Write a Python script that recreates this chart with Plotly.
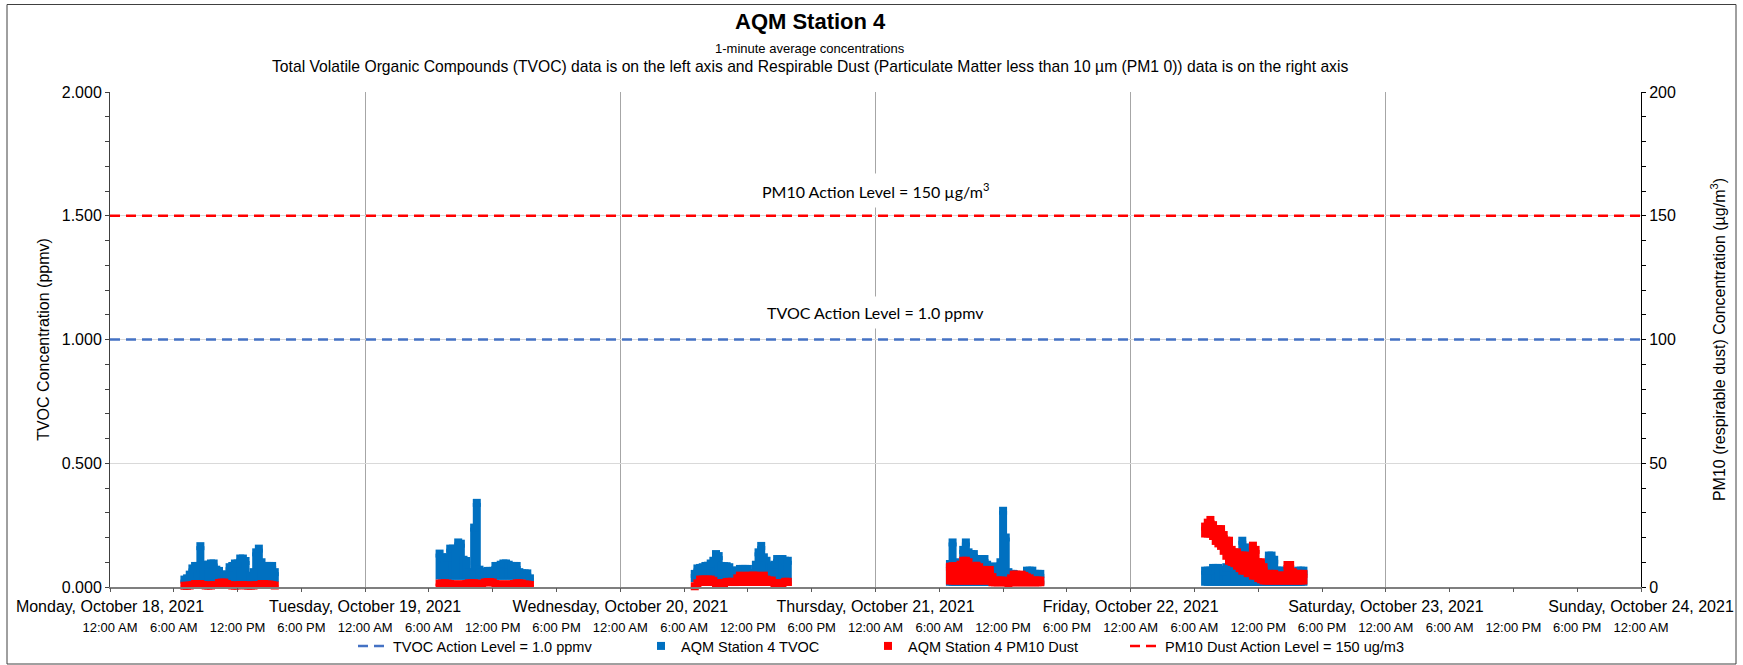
import numpy as np
import pandas as pd
import plotly.graph_objects as go

# ------------------------------------------------------------------ data
day_dates = ["2021-10-18", "2021-10-19", "2021-10-20", "2021-10-21", "2021-10-22"]
day_start_time = "07:00"
day_end_times = ["15:30", "15:30", "15:45", "15:30", "16:15"]

# TVOC (ppmv) upper / lower envelope of the 1-minute values, 15-minute steps
mon_tvoc_hi = [0.030, 0.035, 0.050, 0.075, 0.085, 0.085, 0.165, 0.090, 0.085, 0.090, 0.095, 0.095,
               0.070, 0.065, 0.050, 0.050, 0.050, 0.080, 0.085, 0.095, 0.095, 0.115, 0.115, 0.105,
               0.045, 0.045, 0.060, 0.140, 0.155, 0.100, 0.085, 0.085, 0.085, 0.085, 0.060]
mon_tvoc_lo = [0.020, 0.020, 0.020, 0.020, 0.020, 0.020, 0.020, 0.020, 0.020, 0.020, 0.020, 0.020,
               0.020, 0.020, 0.020, 0.020, 0.020, 0.020, 0.020, 0.020, 0.020, 0.020, 0.020, 0.020,
               0.020, 0.020, 0.020, 0.020, 0.020, 0.020, 0.020, 0.020, 0.020, 0.020, 0.020]
tue_tvoc_hi = [0.135, 0.120, 0.100, 0.120, 0.155, 0.155, 0.150, 0.180, 0.175, 0.110, 0.105, 0.060,
               0.050, 0.240, 0.340, 0.070, 0.060, 0.060, 0.065, 0.065, 0.065, 0.085, 0.085, 0.090,
               0.095, 0.095, 0.090, 0.085, 0.085, 0.085, 0.060, 0.055, 0.055, 0.055, 0.035]
tue_tvoc_lo = [0.030, 0.030, 0.030, 0.030, 0.030, 0.030, 0.030, 0.030, 0.030, 0.030, 0.030, 0.030,
               0.030, 0.030, 0.030, 0.030, 0.030, 0.030, 0.030, 0.030, 0.030, 0.030, 0.030, 0.030,
               0.030, 0.030, 0.030, 0.030, 0.030, 0.030, 0.030, 0.030, 0.030, 0.030, 0.030]
wed_tvoc_hi = [0.053, 0.075, 0.077, 0.080, 0.085, 0.086, 0.095, 0.106, 0.133, 0.125, 0.085, 0.084,
               0.084, 0.080, 0.066, 0.066, 0.066, 0.073, 0.073, 0.073, 0.073, 0.050, 0.040, 0.090,
               0.140, 0.166, 0.120, 0.106, 0.084, 0.084, 0.090, 0.113, 0.113, 0.113, 0.106, 0.106]
wed_tvoc_lo = [0.020, 0.020, 0.020, 0.020, 0.020, 0.020, 0.020, 0.020, 0.020, 0.020, 0.020, 0.020,
               0.020, 0.020, 0.020, 0.020, 0.020, 0.020, 0.020, 0.020, 0.020, 0.020, 0.020, 0.020,
               0.020, 0.020, 0.020, 0.020, 0.020, 0.020, 0.020, 0.020, 0.020, 0.020, 0.020, 0.020]
thu_tvoc_hi = [0.093, 0.180, 0.100, 0.066, 0.066, 0.150, 0.180, 0.140, 0.133, 0.133, 0.113, 0.113,
               0.113, 0.113, 0.090, 0.082, 0.082, 0.082, 0.082, 0.100, 0.308, 0.200, 0.060, 0.053,
               0.053, 0.046, 0.046, 0.046, 0.046, 0.066, 0.066, 0.066, 0.053, 0.053, 0.053]
thu_tvoc_lo = [0.005, 0.005, 0.005, 0.005, 0.005, 0.005, 0.005, 0.005, 0.005, 0.005, 0.005, 0.005,
               0.005, 0.005, 0.005, 0.005, 0.005, 0.005, 0.005, 0.005, 0.005, 0.005, 0.005, 0.005,
               0.005, 0.005, 0.005, 0.005, 0.005, 0.005, 0.005, 0.005, 0.005, 0.005, 0.005]
fri_tvoc_hi = [0.066, 0.066, 0.066, 0.077, 0.077, 0.077, 0.070, 0.061, 0.080, 0.093, 0.093, 0.080,
               0.066, 0.100, 0.187, 0.160, 0.127, 0.127, 0.060, 0.040, 0.034, 0.034, 0.050, 0.093,
               0.127, 0.127, 0.110, 0.066, 0.066, 0.066, 0.050, 0.034, 0.034, 0.034, 0.040, 0.066,
               0.066, 0.066]
fri_tvoc_lo = [0.005, 0.005, 0.005, 0.005, 0.005, 0.005, 0.005, 0.005, 0.005, 0.005, 0.005, 0.005,
               0.005, 0.005, 0.005, 0.005, 0.005, 0.005, 0.005, 0.005, 0.005, 0.005, 0.005, 0.005,
               0.005, 0.005, 0.005, 0.005, 0.005, 0.005, 0.005, 0.005, 0.005, 0.005, 0.005, 0.005,
               0.005, 0.005]

# PM10 dust (ug/m3) upper / lower envelope, 15-minute steps
mon_pm10_hi = [0.5, 0.5, 0.6, 0.8, 1.2, 1.2, 1.2, 0.8, 0.6, 0.6, 0.6, 0.8, 0.8, 1.6, 1.8, 1.8, 1.2, 0.8,
               0.6, 0.6, 0.6, 0.8, 0.8, 0.6, 0.6, 0.6, 0.6, 0.8, 0.8, 1.2, 1.2, 1.0, 1.0, 0.8, 0.6]
mon_pm10_lo = [0.3, 0.3, 0.3, 0.3, 0.3, 0.3, 0.3, 0.3, 0.3, 0.3, 0.3, 0.3, 0.3, 0.3, 0.3, 0.3, 0.3, 0.3,
               0.3, 0.3, 0.3, 0.3, 0.3, 0.3, 0.3, 0.3, 0.3, 0.3, 0.3, 0.3, 0.3, 0.3, 0.3, 0.3, 0.3]
tue_pm10_hi = [1.4, 1.4, 1.5, 1.4, 1.2, 1.0, 1.0, 1.0, 1.0, 1.0, 1.2, 1.5, 1.5, 1.5, 1.4, 1.0, 1.2, 1.8,
               2.0, 2.0, 1.8, 1.2, 1.0, 1.0, 1.0, 1.0, 1.0, 1.0, 1.2, 1.5, 1.5, 1.4, 1.0, 1.0, 0.8]
tue_pm10_lo = [0.4, 0.4, 0.4, 0.4, 0.4, 0.4, 0.4, 0.4, 0.4, 0.4, 0.4, 0.4, 0.4, 0.4, 0.4, 0.4, 0.4, 0.4,
               0.4, 0.4, 0.4, 0.4, 0.4, 0.4, 0.4, 0.4, 0.4, 0.4, 0.4, 0.4, 0.4, 0.4, 0.4, 0.4, 0.4]
wed_pm10_hi = [0.3, 1.5, 3.0, 3.0, 3.0, 3.0, 3.0, 2.5, 1.5, 1.5, 1.5, 1.5, 2.0, 2.1, 2.1, 2.0, 3.5, 4.6,
               4.3, 4.0, 4.6, 3.5, 4.6, 4.6, 4.2, 4.0, 4.6, 3.0, 2.6, 2.6, 1.5, 1.5, 1.5, 1.5, 2.1, 2.1]
wed_pm10_lo = [0.4, 0.4, 0.4, 0.4, 0.4, 0.4, 0.4, 0.4, 0.4, 0.4, 0.4, 0.4, 0.4, 0.4, 0.4, 0.4, 0.4, 0.4,
               0.4, 0.4, 0.4, 0.4, 0.4, 0.4, 0.4, 0.4, 0.4, 0.4, 0.4, 0.4, 0.4, 0.4, 0.4, 0.4, 0.4, 0.4]
thu_pm10_hi = [8.2, 8.4, 8.4, 8.0, 9.0, 10.6, 10.6, 10.0, 8.0, 5.7, 8.6, 8.0, 6.9, 6.9, 6.5, 6.9, 4.0,
               2.6, 2.6, 2.6, 2.6, 2.0, 1.4, 3.5, 5.0, 5.0, 4.8, 5.0, 4.5, 3.9, 3.5, 2.6, 2.6, 2.6, 2.6]
thu_pm10_lo = [1.0, 1.0, 1.0, 1.0, 1.0, 1.0, 1.0, 1.0, 1.0, 1.0, 1.0, 1.0, 1.0, 1.0, 1.0, 1.0, 0.3,
               0.3, 0.3, 0.3, 0.3, 0.3, 0.3, 0.3, 0.3, 0.3, 0.3, 0.3, 0.3, 0.3, 0.3, 0.3, 0.3, 0.3, 0.3]
fri_pm10_hi = [24.4, 26.0, 27.1, 25.0, 22.8, 23.4, 23.4, 21.0, 18.7, 18.7, 15.0, 14.0, 14.0, 12.7,
               12.7, 12.7, 11.4, 11.4, 16.7, 15.0, 10.0, 10.0, 8.0, 5.3, 5.3, 5.3, 5.3, 4.6, 4.6, 4.6,
               4.6, 8.9, 8.9, 6.0, 5.3, 5.3, 5.3, 5.3]
fri_pm10_lo = [20.0, 20.0, 20.0, 19.0, 17.0, 16.0, 15.0, 13.0, 11.0, 9.0, 8.5, 8.0, 7.0, 6.0, 5.0,
               5.0, 4.0, 4.0, 3.0, 3.0, 2.0, 1.5, 1.0, 1.0, 1.0, 1.0, 1.0, 1.0, 1.0, 1.0, 1.0, 1.0,
               1.0, 1.0, 1.0, 1.0, 1.0, 1.0]

tvoc_action_level = 1.0     # ppmv
pm10_action_level = 150.0   # ug/m3

x_range = ["2021-10-18 00:00", "2021-10-24 00:00"]
day_tick_dates = ["2021-10-18", "2021-10-19", "2021-10-20", "2021-10-21",
                  "2021-10-22", "2021-10-23", "2021-10-24"]
day_tick_labels = ["Monday, October 18, 2021", "Tuesday, October 19, 2021",
                   "Wednesday, October 20, 2021", "Thursday, October 21, 2021",
                   "Friday, October 22, 2021", "Saturday, October 23, 2021",
                   "Sunday, October 24, 2021"]
time_tick_labels = ["12:00 AM", "6:00 AM", "12:00 PM", "6:00 PM"] * 6 + ["12:00 AM"]

# ------------------------------------------------------------------ assemble
times = []
for d, e in zip(day_dates, day_end_times):
    times.extend(pd.date_range(f"{d} {day_start_time}", f"{d} {e}", freq="15min"))
tvoc_hi = np.array(mon_tvoc_hi + tue_tvoc_hi + wed_tvoc_hi + thu_tvoc_hi + fri_tvoc_hi)
tvoc_lo = np.array(mon_tvoc_lo + tue_tvoc_lo + wed_tvoc_lo + thu_tvoc_lo + fri_tvoc_lo)
pm10_hi = np.array(mon_pm10_hi + tue_pm10_hi + wed_pm10_hi + thu_pm10_hi + fri_pm10_hi)
pm10_lo = np.array(mon_pm10_lo + tue_pm10_lo + wed_pm10_lo + thu_pm10_lo + fri_pm10_lo)
time_ticks = pd.date_range(x_range[0], x_range[1], freq="6h")

BLUE = "#0070C0"
RED = "#FF0000"
FONT = "Liberation Sans, Arial, sans-serif"

W, H = 1743, 665
ML, MR, MT, MB = 110, 102, 92, 78
PW, PH = W - ML - MR, H - MT - MB


def pxx(x):
    return (x - ML) / PW


def pxy(y):
    return (H - MB - y) / PH


fig = go.Figure()
fig.add_trace(go.Scatter(
    x=x_range, y=[tvoc_action_level, tvoc_action_level], mode="lines",
    line=dict(color="#4472C4", width=2.5, dash="10px,6px"),
    name="TVOC Action Level = 1.0 ppmv", hoverinfo="skip", legend="legend"))
fig.add_trace(go.Scatter(
    x=times, y=tvoc_hi, mode="markers", cliponaxis=False,
    marker=dict(symbol="square", size=8, color=BLUE, line=dict(width=0)),
    error_y=dict(type="data", symmetric=False, array=np.zeros(len(tvoc_hi)),
                 arrayminus=tvoc_hi - tvoc_lo, thickness=8, width=0, color=BLUE),
    name="AQM Station 4 TVOC", legend="legend2"))
fig.add_trace(go.Scatter(
    x=times, y=pm10_hi, mode="markers", cliponaxis=False, yaxis="y2",
    marker=dict(symbol="square", size=8, color=RED, line=dict(width=0)),
    error_y=dict(type="data", symmetric=False, array=np.zeros(len(pm10_hi)),
                 arrayminus=pm10_hi - pm10_lo, thickness=8, width=0, color=RED),
    name="AQM Station 4 PM10 Dust", legend="legend3"))
fig.add_trace(go.Scatter(
    x=x_range, y=[pm10_action_level, pm10_action_level], mode="lines", yaxis="y2",
    line=dict(color=RED, width=2.5, dash="10px,6px"),
    name="PM10 Dust Action Level = 150 ug/m3", hoverinfo="skip", legend="legend4"))
# carrier for the time-of-day axis
fig.add_trace(go.Scatter(x=[x_range[0]], y=[None], xaxis="x2", showlegend=False,
                         hoverinfo="skip"))

LEG_Y = 1 - 646 / H


def leg(xpx):
    return dict(orientation="h", xref="container", yref="container", x=xpx / W, xanchor="left",
                y=LEG_Y, yanchor="middle", font=dict(size=14.5), bgcolor="rgba(0,0,0,0)",
                itemwidth=30)


fig.update_layout(
    width=W, height=H,
    margin=dict(l=ML, r=MR, t=MT, b=MB, pad=0, autoexpand=False),
    paper_bgcolor="white", plot_bgcolor="white",
    font=dict(family=FONT, color="black", size=14),
    showlegend=True,
    legend=leg(353), legend2=leg(641), legend3=leg(868), legend4=leg(1125),
    xaxis=dict(type="date", range=x_range, tickmode="array", tickvals=day_tick_dates,
               ticktext=day_tick_labels, ticks="", showgrid=True, gridcolor="#a6a6a6",
               gridwidth=1, showline=True, linecolor="#7f7f7f", linewidth=2,
               zeroline=False, tickfont=dict(size=16), ticklabelstandoff=4),
    xaxis2=dict(type="date", overlaying="x", side="bottom", anchor="y", range=x_range,
                tickmode="array", tickvals=list(time_ticks), ticktext=time_tick_labels,
                ticks="outside", ticklen=4, tickcolor="#595959", showgrid=False,
                showline=False, zeroline=False, tickfont=dict(size=13),
                ticklabelstandoff=24),
    yaxis=dict(range=[0, 2], tick0=0, dtick=0.5, tickformat=".3f", ticks="outside",
               ticklen=4, tickcolor="#404040",
               minor=dict(dtick=0.1, ticks="outside", ticklen=4, tickcolor="#404040",
                          showgrid=False),
               showgrid=True, gridcolor="#d9d9d9", gridwidth=1, showline=True,
               linecolor="#404040", linewidth=1, zeroline=False, tickfont=dict(size=16),
               title=dict(text="TVOC Concentration (ppmv)", font=dict(size=16), standoff=8)),
    yaxis2=dict(overlaying="y", side="right", range=[0, 200], tick0=0, dtick=50,
                ticks="outside", ticklen=4, tickcolor="black",
                minor=dict(dtick=10, ticks="outside", ticklen=4, tickcolor="black",
                           showgrid=False),
                showgrid=False, showline=True, linecolor="black", linewidth=1,
                zeroline=False, tickfont=dict(size=16),
                title=dict(text="PM10 (respirable dust) Concentration (µg/m<sup>3</sup>)",
                           font=dict(size=16), standoff=38)),
    annotations=[
        dict(text="<b>AQM Station 4</b>", xref="paper", yref="paper", x=pxx(810), y=pxy(22),
             xanchor="center", yanchor="middle", showarrow=False, font=dict(size=22)),
        dict(text="1-minute average concentrations", xref="paper", yref="paper",
             x=pxx(810), y=pxy(48), xanchor="center", yanchor="middle", showarrow=False,
             font=dict(size=13)),
        dict(text="Total Volatile Organic Compounds (TVOC) data is on the left axis and "
                  "Respirable Dust (Particulate Matter less than 10 µm (PM1 0)) data is on "
                  "the right axis",
             xref="paper", yref="paper", x=pxx(810), y=pxy(67), xanchor="center",
             yanchor="middle", showarrow=False, font=dict(size=15.7)),
        dict(text="PM10 Action Level = 150 µg/m<sup>3</sup>", xref="x", yref="y2",
             x="2021-10-21", y=160.4, xanchor="center", yanchor="middle", showarrow=False,
             bgcolor="white", borderpad=6, font=dict(family="Lato, sans-serif", size=16)),
        dict(text="TVOC Action Level = 1.0 ppmv", xref="x", yref="y",
             x="2021-10-21", y=1.111, xanchor="center", yanchor="middle", showarrow=False,
             bgcolor="white", borderpad=6, font=dict(family="Lato, sans-serif", size=16)),
    ],
    shapes=[dict(type="rect", xref="paper", yref="paper", x0=pxx(7), x1=pxx(1736),
                 y0=pxy(664), y1=pxy(4.5), line=dict(color="#404040", width=1),
                 fillcolor="rgba(0,0,0,0)", layer="above")],
)

fig.write_html("out.html", config={"displayModeBar": False},
               post_script="document.body.style.margin='0';"
                           "document.body.style.overflow='hidden';")
